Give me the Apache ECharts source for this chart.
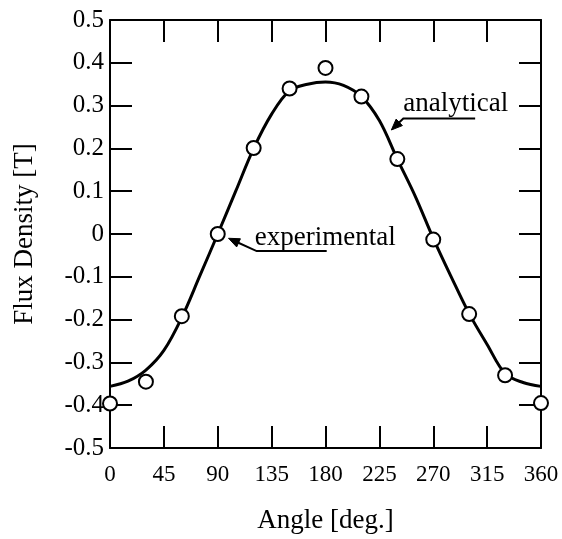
<!DOCTYPE html>
<html>
<head>
<meta charset="utf-8">
<script src="https://cdn.jsdelivr.net/npm/echarts@6/dist/echarts.min.js"></script>
<style>
  html, body { margin: 0; padding: 0; background: #fff; }
  #chart { width: 562px; height: 539px; }
</style>
</head>
<body>
<div id="chart"></div>
<script>
// Analytical flux density curve, sampled every 15 degrees
const curveAngles = [0, 15, 30, 45, 60, 75, 90, 105, 120, 135, 150, 165, 180,
                     195, 210, 225, 240, 255, 270, 285, 300, 315, 330, 345, 360];
const curveValues = [-0.356, -0.344, -0.318, -0.272, -0.195, -0.098, 0.0, 0.100, 0.200, 0.280, 0.335, 0.350, 0.355,
                     0.347, 0.321, 0.265, 0.175, 0.088, -0.010, -0.100, -0.186, -0.258, -0.326, -0.347, -0.356];

// Measured points, every 30 degrees
const expAngles = [0, 30, 60, 90, 120, 150, 180, 210, 240, 270, 300, 330, 360];
const expValues = [-0.396, -0.345, -0.192, 0.0, 0.201, 0.340, 0.388, 0.321, 0.175, -0.013, -0.187, -0.330, -0.395];

// Axis ticks
const xTicks = [0, 45, 90, 135, 180, 225, 270, 315, 360];
const yTicks = [-0.5, -0.4, -0.3, -0.2, -0.1, 0, 0.1, 0.2, 0.3, 0.4, 0.5];

// Callout anchors in data units: label position, underline end, arrow tip
const analyticalNote = { text: 'analytical', label: [245, 0.303], lineEnd: [305, 0.270], lineStart: [245, 0.270], tip: [235, 0.243] };
const experimentalNote = { text: 'experimental', label: [121, -0.010], lineEnd: [181, -0.040], lineStart: [122.5, -0.040], tip: [99, -0.010] };

const FONT = '"Liberation Serif", "DejaVu Serif", serif';
const chart = echarts.init(document.getElementById('chart'), null, { renderer: 'canvas' });

function fmtY(v) {
  const r = Math.round(v * 10) / 10;
  if (r === 0) return '0';
  return r.toFixed(1);
}

const axisCommon = {
  type: 'value',
  axisLine: { show: true, onZero: false, lineStyle: { color: '#000', width: 2 } },
  axisTick: { show: true, inside: true, length: 22, lineStyle: { color: '#000', width: 2 } },
  splitLine: { show: false },
  minorTick: { show: false }
};

chart.setOption({
  animation: false,
  backgroundColor: '#fff',
  grid: { left: 110, right: 21, top: 20, bottom: 88, containLabel: false },
  xAxis: [
    Object.assign({}, axisCommon, {
      position: 'bottom',
      min: xTicks[0], max: xTicks[xTicks.length - 1], interval: 45,
      name: 'Angle [deg.]',
      nameLocation: 'middle',
      nameGap: 59,
      nameTextStyle: { fontFamily: FONT, fontSize: 27, color: '#000' },
      axisLabel: { show: true, margin: 15, fontFamily: FONT, fontSize: 23, color: '#000' }
    }),
    Object.assign({}, axisCommon, {
      position: 'top',
      min: xTicks[0], max: xTicks[xTicks.length - 1], interval: 45,
      axisLabel: { show: false }
    })
  ],
  yAxis: [
    Object.assign({}, axisCommon, {
      position: 'left',
      min: yTicks[0], max: yTicks[yTicks.length - 1], interval: 0.1,
      name: 'Flux Density [T]',
      nameLocation: 'middle',
      nameGap: 72,
      nameRotate: 90,
      nameTextStyle: { fontFamily: FONT, fontSize: 27, color: '#000' },
      axisLabel: { show: true, margin: 6, fontFamily: FONT, fontSize: 25, color: '#000', formatter: fmtY }
    }),
    Object.assign({}, axisCommon, {
      position: 'right',
      min: yTicks[0], max: yTicks[yTicks.length - 1], interval: 0.1,
      axisLabel: { show: false }
    })
  ],
  series: [
    {
      name: 'analytical',
      type: 'line',
      xAxisIndex: 0, yAxisIndex: 0,
      data: curveAngles.map((a, i) => [a, curveValues[i]]),
      smooth: 0.35,
      showSymbol: false,
      lineStyle: { color: '#000', width: 3 },
      z: 2
    },
    {
      name: 'experimental',
      type: 'scatter',
      xAxisIndex: 0, yAxisIndex: 0,
      data: expAngles.map((a, i) => [a, expValues[i]]),
      symbol: 'circle',
      symbolSize: 14,
      clip: false,
      itemStyle: { color: '#fff', borderColor: '#000', borderWidth: 2, opacity: 1 },
      z: 5
    }
  ]
});

// Callouts: label, underline and a slanted arrow to the curve or point
function callout(note) {
  const px = p => chart.convertToPixel({ gridIndex: 0 }, p);
  const lab = px(note.label);
  const s = px(note.lineStart);
  const e = px(note.lineEnd);
  const t = px(note.tip);
  const dx = t[0] - s[0], dy = t[1] - s[1];
  const len = Math.hypot(dx, dy);
  const ux = dx / len, uy = dy / len;
  const headLen = 11, headW = 4.5;
  const bx = t[0] - ux * headLen, by = t[1] - uy * headLen;
  return [
    {
      type: 'text', x: lab[0], y: lab[1], z: 10,
      style: { text: note.text, fontFamily: FONT, fontSize: 27, fill: '#000', verticalAlign: 'middle', align: 'left' }
    },
    {
      type: 'polyline', z: 10,
      shape: { points: [e, s, [bx + ux * 2, by + uy * 2]] },
      style: { stroke: '#000', lineWidth: 2, fill: null }
    },
    {
      type: 'polygon', z: 10,
      shape: { points: [t, [bx - uy * headW, by + ux * headW], [bx + uy * headW, by - ux * headW]] },
      style: { fill: '#000', stroke: '#000', lineWidth: 1 }
    }
  ];
}

chart.setOption({ graphic: callout(analyticalNote).concat(callout(experimentalNote)) });
</script>
</body>
</html>
